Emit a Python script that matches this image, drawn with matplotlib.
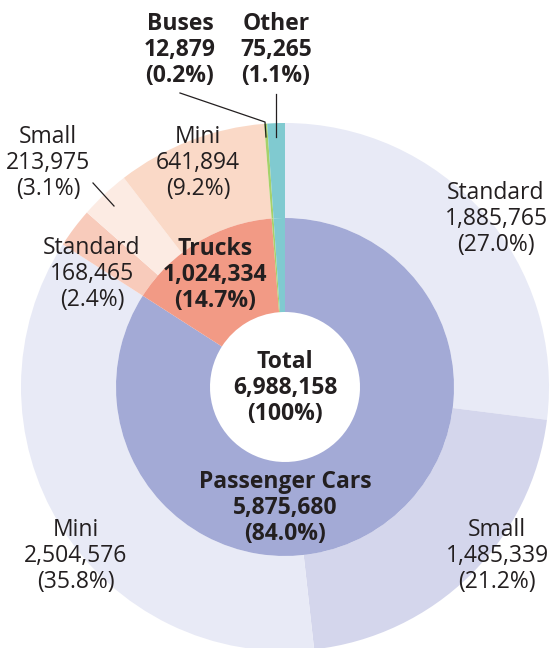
import matplotlib
matplotlib.use("Agg")
import matplotlib.pyplot as plt

plt.rcParams['font.family'] = ['Open Sans', 'DejaVu Sans']

# Inner ring: vehicle types
inner_labels = ["Passenger Cars", "Trucks", "Buses", "Other"]
inner_values = [5875680, 1024334, 12879, 75265]
inner_pcts = ["84.0%", "14.7%", "0.2%", "1.1%"]
inner_colors = ["#a3aad6", "#f29a85", "#a6d16a", "#80cad0"]

# Outer ring: sizes within each type
outer_labels = ["Standard", "Small", "Mini", "Standard", "Small", "Mini", "Buses", "Other"]
outer_values = [1885765, 1485339, 2504576, 168465, 213975, 641894, 12879, 75265]
outer_pcts = ["27.0%", "21.2%", "35.8%", "2.4%", "3.1%", "9.2%", "0.2%", "1.1%"]
outer_colors = ["#e8eaf6", "#d4d6ec", "#e8eaf6", "#f8cbbb", "#fcebe3", "#fad9c7",
                "#a6d16a", "#80cad0"]

total = 6988158
total_pct = "100%"

fig = plt.figure(figsize=(5.5, 6.48), dpi=100)
ax = fig.add_axes([0, 0, 1, 1])
ax.set_aspect('equal')
ax.axis('off')

cx, cy = 285, 648 - 387
ax.pie(outer_values, colors=outer_colors, startangle=90, counterclock=False,
       radius=264, center=(cx, cy), wedgeprops=dict(width=95, linewidth=0))
ax.pie(inner_values, colors=inner_colors, startangle=90, counterclock=False,
       radius=169, center=(cx, cy), wedgeprops=dict(width=94, linewidth=0))
ax.set_xlim(0, 550)
ax.set_ylim(0, 648)

def lab(x, y, name, val, p, bold=False):
    ax.text(x, 648 - y - 3, f"{name}\n{val:,}\n({p})", ha='center', va='center',
            fontsize=16.5, fontweight='bold' if bold else 'normal',
            color="#231f20", linespacing=1.13)

# outer passenger
lab(496, 216, outer_labels[0], outer_values[0], outer_pcts[0])
lab(497, 553, outer_labels[1], outer_values[1], outer_pcts[1])
lab(76, 553, outer_labels[2], outer_values[2], outer_pcts[2])
# outer trucks
lab(92, 271, outer_labels[3], outer_values[3], outer_pcts[3])
lab(48, 160, outer_labels[4], outer_values[4], outer_pcts[4])
lab(198, 160, outer_labels[5], outer_values[5], outer_pcts[5])
# inner
lab(285, 505, inner_labels[0], inner_values[0], inner_pcts[0], bold=True)
lab(215, 272, inner_labels[1], inner_values[1], inner_pcts[1], bold=True)
lab(180, 47, inner_labels[2], inner_values[2], inner_pcts[2], bold=True)
lab(276, 47, inner_labels[3], inner_values[3], inner_pcts[3], bold=True)
lab(285, 385, "Total", total, total_pct, bold=True)

# leader lines
ax.plot([93, 114], [648 - 183, 648 - 206], color="#231f20", lw=0.9)
ax.plot([180, 265, 266], [648 - 93, 648 - 122, 648 - 137], color="#231f20", lw=0.9)
ax.plot([276, 276], [648 - 94, 648 - 137], color="#231f20", lw=0.9)

fig.savefig("out.png", dpi=100)
